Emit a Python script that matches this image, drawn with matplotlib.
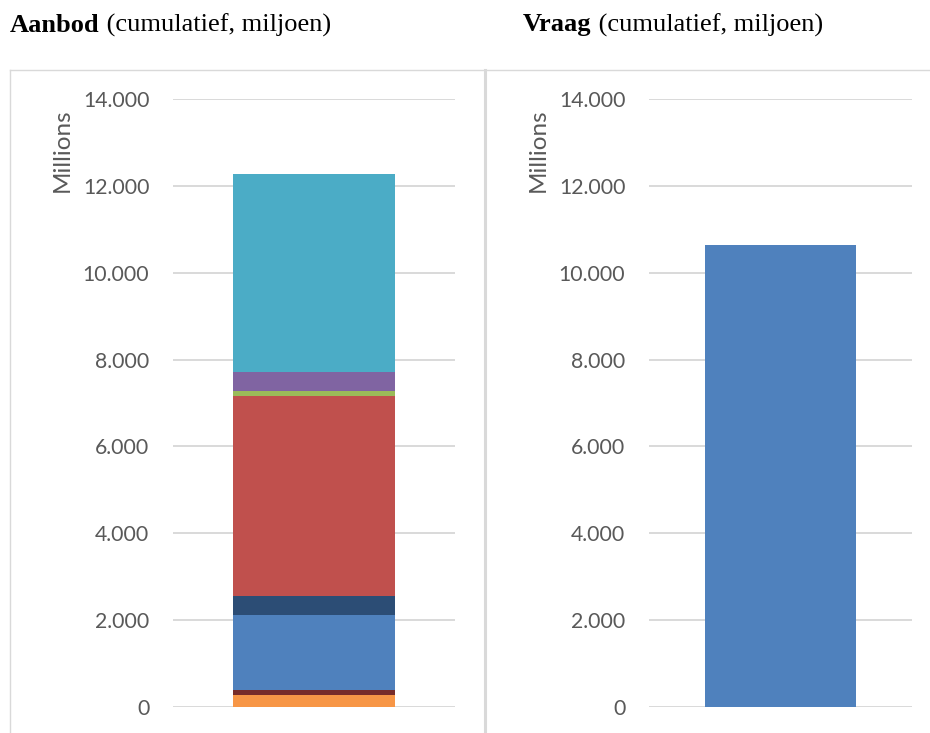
import matplotlib
matplotlib.use("Agg")
import matplotlib.pyplot as plt
from matplotlib.lines import Line2D

# Data (millions)
supply_segments = [276, 115, 1727, 438, 4612, 108, 437, 4560]
supply_colors = ["#F79646", "#772C2A", "#4F81BD", "#2C4D75", "#C0504D",
                 "#9BBB59", "#8064A2", "#4BACC6"]
demand_value = [10638]
demand_color = "#4F81BD"
yticks = [0, 2000, 4000, 6000, 8000, 10000, 12000, 14000]
ytick_labels = ["0", "2.000", "4.000", "6.000", "8.000", "10.000", "12.000", "14.000"]

W, H = 930, 733
fig = plt.figure(figsize=(W / 100, H / 100), dpi=100)

def fx(px):
    return px / W

def fy(py):
    return 1 - py / H

grid_c = "#d9d9d9"
text_c = "#595959"
tick_font = "Lato"

# chart borders
border_kw = dict(color=grid_c, lw=1.0, transform=fig.transFigure)
fig.add_artist(Line2D([fx(10), fx(10)], [fy(70), fy(740)], **border_kw))
fig.add_artist(Line2D([fx(10), fx(935)], [fy(70), fy(70)], **border_kw))
fig.add_artist(Line2D([fx(485), fx(485)], [fy(70), fy(740)], color=grid_c, lw=2.2,
                      transform=fig.transFigure))

# titles
title_fs = 19
for x0, bold, rest in [(10, "Aanbod", " (cumulatief, miljoen)"),
                       (523, "Vraag", " (cumulatief, miljoen)")]:
    t = fig.text(fx(x0), fy(25), bold, fontfamily="Liberation Serif", fontweight="bold",
                 fontsize=title_fs, va="center", ha="left", color="black")
    fig.canvas.draw()
    bb = t.get_window_extent()
    fig.text(bb.x1 / W, fy(25), rest, fontfamily="Liberation Serif",
             fontsize=title_fs, va="center", ha="left", color="black")

def setup(ax, label_x):
    ax.set_xlim(-0.5, 0.5)
    ax.set_ylim(0, 14000)
    ax.set_yticks(yticks)
    ax.set_yticklabels(ytick_labels, fontfamily=tick_font, fontsize=15.3, color=text_c)
    ax.tick_params(axis="y", length=0, pad=17)
    ax.set_xticks([])
    for s in ax.spines.values():
        s.set_visible(False)
    ax.grid(axis="y", color=grid_c, lw=1.4)
    ax.set_axisbelow(True)
    ax.text(label_x, 0.916, "Millions", rotation=90, transform=ax.transAxes,
            ha="center", va="center", fontfamily=tick_font, fontsize=17.5, color=text_c)

# left: supply stacked
ax1 = fig.add_axes([fx(173), fy(707), fx(455) - fx(173), fy(99) - fy(707)])
bottom = 0
for v, c in zip(supply_segments, supply_colors):
    ax1.bar([0], [v], bottom=bottom, width=0.5745, color=c, zorder=3)
    bottom += v
setup(ax1, (62 - 173) / 282)

# right: demand
ax2 = fig.add_axes([fx(649), fy(707), fx(912) - fx(649), fy(99) - fy(707)])
ax2.bar([0], demand_value, width=0.574, color=demand_color, zorder=3)
setup(ax2, (538 - 649) / 263)

fig.savefig("out.png", dpi=100)
